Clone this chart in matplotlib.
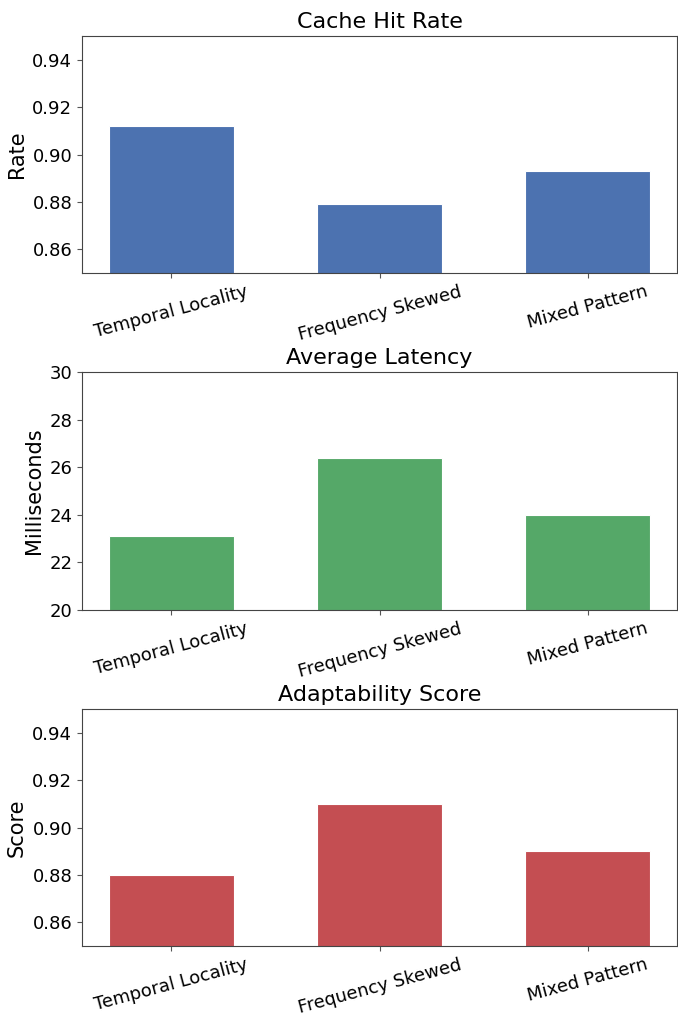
import matplotlib
matplotlib.use("Agg")
import numpy as np
from matplotlib import pyplot as plt

categories = ["Temporal Locality", "Frequency Skewed", "Mixed Pattern"]
hit_rate = [0.912, 0.879, 0.893]
latency = [23.1, 26.4, 24.0]
adaptability = [0.880, 0.910, 0.890]

panels = [
    ("Cache Hit Rate", "Rate", hit_rate, "#4C72B0", (0.85, 0.95), [0.86, 0.88, 0.90, 0.92, 0.94], "{:.2f}"),
    ("Average Latency", "Milliseconds", latency, "#55A868", (20, 30), [20, 22, 24, 26, 28, 30], "{:.0f}"),
    ("Adaptability Score", "Score", adaptability, "#C44E52", (0.85, 0.95), [0.86, 0.88, 0.90, 0.92, 0.94], "{:.2f}"),
]

W, H = 678, 1013
fig = plt.figure(figsize=(W / 100, H / 100), dpi=100)

# axes boxes in pixels: (top, bottom)
boxes = [(36, 273), (372, 610), (709, 946)]
left_px, right_px = 82, 677

x = np.arange(len(categories))
for (title, ylabel, vals, color, ylim, yticks, fmt), (top, bot) in zip(panels, boxes):
    ax = fig.add_axes([left_px / W, 1 - bot / H, (right_px - left_px) / W, (bot - top) / H])
    ax.bar(x, vals, width=0.6, color=color, edgecolor="white", linewidth=0.8)
    ax.set_xlim(-0.43, 2.43)
    ax.set_ylim(*ylim)
    ax.set_yticks(yticks)
    ax.set_yticklabels([fmt.format(t) for t in yticks])
    ax.set_xticks(x)
    ax.set_xticklabels(categories, rotation=15)
    ax.set_title(title, fontsize=16)
    ax.set_ylabel(ylabel, fontsize=15)
    ax.tick_params(axis="both", labelsize=13, color="#555555")
    for s in ax.spines.values():
        s.set_color("#444444")

fig.savefig("out.png", dpi=100)
